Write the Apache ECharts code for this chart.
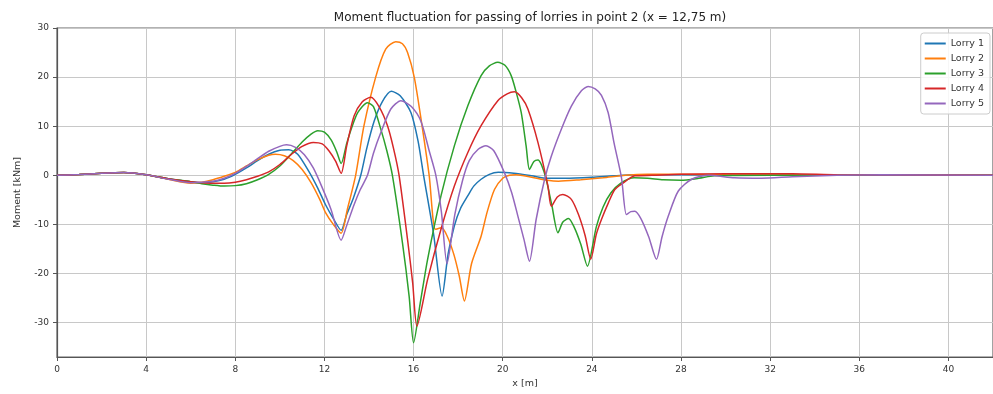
<!DOCTYPE html>
<html>
<head>
<meta charset="utf-8">
<script src="https://cdn.jsdelivr.net/npm/echarts@6/dist/echarts.min.js"></script>
<style>
html,body{margin:0;padding:0;background:#fff;}
#chart{width:993px;height:394px;}
</style>
</head>
<body>
<div id="chart"></div>
<script>
const titleText = 'Moment fluctuation for passing of lorries in point 2 (x = 12,75 m)';
const seriesNames = ['Lorry 1', 'Lorry 2', 'Lorry 3', 'Lorry 4', 'Lorry 5'];
const colors = ['#1f77b4', '#ff7f0e', '#2ca02c', '#d62728', '#9467bd'];

const lorry1 = [[0,0],[1,0.15],[2,0.4],[3,0.55],[4,0.1],[5,-0.7],[6,-1.3],[6.5,-1.5],[7,-1.3],[7.5,-0.8],[8,0.2],[8.5,1.5],[9,3.0],[9.5,4.3],[10,5.1],[10.4,5.2],[10.8,4.3],[11.3,0.8],[11.7,-2.6],[12.05,-6.0],[12.4,-8.8],[12.75,-11.2],
[13.0,-8.0],[13.3,-4.6],[13.63,0],[13.9,5.5],[14.23,11.0],[14.6,15.0],[15.0,17.1],[15.4,16.2],[15.88,12.8],[16.2,7.0],[16.45,0],[16.9,-12.0],[17.28,-24.6],[17.55,-16],[17.83,-10.3],[18.1,-6.8],[18.43,-4.2],[18.7,-2.2],[19.03,-0.8],[19.4,0.2],[19.8,0.6],[20.5,0.4],[21.3,-0.1],[22.0,-0.6],[22.8,-0.6],[24,-0.4],[25,-0.1],[26,0.1],[28,0.1],[30,0],[42,0]];

const lorry2 = [[0,0],[1,0.15],[2,0.4],[3,0.55],[4,0.1],[5,-0.8],[6,-1.6],[6.5,-1.4],[7,-0.9],[7.5,-0.2],[8,0.6],[8.5,1.9],[9,3.2],[9.5,4.1],[9.8,4.3],[10.2,4.0],[10.6,3.0],[11,1.2],[11.4,-1.5],[11.8,-5.0],[12.05,-7.6],[12.4,-10.0],[12.75,-11.8],
[13.03,-6.9],[13.4,0],[13.77,10],[14.3,20],[14.75,25.7],[15.2,27.2],[15.5,26.8],[15.73,25.0],[16.03,20],[16.35,11],[16.7,0],[16.98,-11.0],[17.25,-10.7],[17.5,-12.3],[17.8,-16],[18.05,-20.5],[18.28,-25.6],[18.6,-18],[19.03,-12.4],[19.3,-7.5],[19.63,-2.9],[20.0,-0.6],[20.3,0],[20.6,0.1],[21.3,-0.4],[22.0,-1.0],[22.5,-1.2],[23.5,-0.9],[24.5,-0.5],[25.5,0],[26.5,0.2],[28,0.2],[30,0.1],[42,0]];

const lorry3 = [[0,0],[1,0.15],[2,0.4],[3,0.55],[4,0.1],[5,-0.7],[6,-1.3],[6.5,-1.7],[7,-2.0],[7.5,-2.2],[8,-2.1],[8.5,-1.7],[9,-0.9],[9.5,0.2],[10,1.9],[10.5,4.3],[11,6.8],[11.4,8.4],[11.7,9.1],[12.0,8.8],[12.3,7.2],[12.55,4.8],[12.75,2.4],
[13.0,6.5],[13.2,9.4],[13.5,12.8],[13.93,14.8],[14.2,14.0],[14.53,9.4],[14.8,5],[15.05,0],[15.5,-13.7],[15.8,-24.6],[16.0,-34.1],[16.3,-26],[16.63,-17.1],[17.23,-4.2],[17.83,6.0],[18.43,14.1],[19.03,20.3],[19.4,22.3],[19.78,23.0],[20.1,22.4],[20.38,20.3],[20.6,17],[20.83,12.8],[21.05,6],[21.2,1.2],[21.4,2.8],[21.58,3.1],[21.75,2.0],[21.95,-0.8],[22.2,-6],[22.48,-11.7],[22.7,-9.5],[22.95,-8.8],[23.2,-10.5],[23.5,-14],[23.8,-18.5],[24.2,-10.5],[24.5,-6.5],[24.85,-3.6],[25.3,-1.6],[25.9,-0.5],[26.5,-0.6],[27.2,-0.9],[28,-1.0],[28.8,-0.6],[29.5,-0.1],[32,0],[42,0]];

const lorry4 = [[0,0],[1,0.15],[2,0.4],[3,0.55],[4,0.1],[5,-0.7],[6,-1.3],[6.5,-1.5],[7,-1.6],[7.5,-1.6],[8,-1.4],[8.5,-0.9],[9,-0.2],[9.5,0.7],[10,2.2],[10.5,4.2],[11,5.9],[11.5,6.7],[11.9,6.4],[12.2,5.0],[12.5,2.9],[12.75,0.4],
[13.0,6.0],[13.33,12.1],[13.7,15.0],[14.08,15.9],[14.45,14.0],[14.83,10.1],[15.1,5.5],[15.35,0],[15.73,-13.1],[15.96,-21.9],[16.15,-30.7],[16.63,-21.2],[17.23,-11.0],[17.83,-2.2],[18.43,4.6],[19.03,10.1],[19.78,15.2],[20.2,16.6],[20.53,17.0],[20.85,15.8],[21.13,13.5],[21.58,6.7],[22.03,-2.2],[22.18,-6.3],[22.45,-4.4],[22.7,-3.9],[23.08,-4.9],[23.4,-8],[23.7,-12.3],[23.95,-17.1],[24.2,-12],[24.43,-9.0],[24.75,-5.5],[25.03,-2.9],[25.33,-1.8],[25.93,-0.1],[26.7,0],[28,0.2],[30,0.3],[33,0.3],[35,0.1],[42,0]];

const lorry5 = [[0,0],[1,0.15],[2,0.4],[3,0.55],[4,0.1],[5,-0.8],[6,-1.5],[7,-1.2],[7.5,-0.6],[8,0.4],[8.5,1.8],[9,3.4],[9.5,4.9],[10,5.9],[10.3,6.2],[10.7,5.7],[11.1,4.2],[11.5,1.5],[11.9,-2.5],[12.3,-7.0],[12.75,-13.2],
[13.0,-10.2],[13.33,-6.0],[13.6,-3],[13.93,0],[14.2,4.5],[14.53,8.7],[14.98,13.5],[15.43,15.2],[15.9,14.0],[16.33,11.0],[16.7,5.0],[17.0,0],[17.25,-7.5],[17.5,-18.0],[17.85,-8.0],[18.2,-1.0],[18.5,3.0],[18.9,5.3],[19.25,6.0],[19.6,5.0],[20.08,0.5],[20.4,-3.5],[20.68,-8.3],[20.95,-13],[21.2,-17.5],[21.5,-9],[21.88,-0.8],[22.18,3.9],[22.63,9.4],[23.08,14.1],[23.53,17.2],[23.83,18.1],[24.15,17.6],[24.43,16.3],[24.73,12.8],[25.0,6.5],[25.33,-0.5],[25.55,-8.0],[25.75,-7.4],[25.93,-7.3],[26.2,-8.8],[26.55,-12.5],[26.9,-17.1],[27.15,-12.5],[27.43,-8.3],[27.88,-3.2],[28.48,-0.8],[29.23,0],[30.4,-0.5],[31.6,-0.6],[33,-0.3],[35,0],[37,0.1],[42,0]];

const allData = [lorry1, lorry2, lorry3, lorry4, lorry5];
const FONT = 'DejaVu Sans';

const chart = echarts.init(document.getElementById('chart'), null, {renderer: 'canvas'});
chart.setOption({
  animation: false,
  backgroundColor: '#ffffff',
  title: {
    text: titleText, left: 525, top: 7, textAlign: 'center',
    textStyle: {fontFamily: FONT, fontSize: 12, fontWeight: 'normal', color: '#222'}
  },
  legend: {
    orient: 'vertical', right: 3, top: 33,
    icon: 'rect', itemWidth: 21, itemHeight: 2, itemGap: 4,
    padding: [5, 6, 5, 4],
    borderColor: '#cccccc', borderWidth: 1, borderRadius: 3,
    backgroundColor: 'rgba(255,255,255,0.85)',
    textStyle: {fontFamily: FONT, fontSize: 9.5, color: '#333', lineHeight: 11},
    data: seriesNames
  },
  grid: {left: 57, right: 0, top: 28, bottom: 35, show: true, borderColor: '#666', borderWidth: 1.2},
  xAxis: {
    type: 'value', min: 0, max: 42, interval: 4,
    name: 'x [m]', nameLocation: 'middle', nameGap: 22,
    nameTextStyle: {fontFamily: FONT, fontSize: 9.5, color: '#333'},
    axisLine: {show: true, onZero: false, lineStyle: {color: '#555', width: 1.2}},
    axisTick: {show: true, length: 4, lineStyle: {color: '#555'}},
    axisLabel: {fontFamily: FONT, fontSize: 9, color: '#333', margin: 8, showMaxLabel: false},
    splitLine: {show: true, lineStyle: {color: '#c8c8c8', width: 1}}
  },
  yAxis: {
    type: 'value', min: -37, max: 30,
    name: 'Moment [kNm]', nameLocation: 'middle', nameGap: 34, nameRotate: 90,
    nameTextStyle: {fontFamily: FONT, fontSize: 9.5, color: '#333'},
    axisLine: {show: true, onZero: false, lineStyle: {color: '#555', width: 1.2}},
    axisTick: {show: true, length: 4, lineStyle: {color: '#555'}},
    axisLabel: {fontFamily: FONT, fontSize: 9, color: '#333', margin: 8, showMinLabel: false},
    splitLine: {show: true, lineStyle: {color: '#c8c8c8', width: 1}}
  },
  series: allData.map((d, i) => ({
    name: seriesNames[i], type: 'line', data: d, symbol: 'none',
    smooth: 0.25,
    lineStyle: {color: colors[i], width: 1.5}, itemStyle: {color: colors[i]}
  }))
});
</script>
</body>
</html>
